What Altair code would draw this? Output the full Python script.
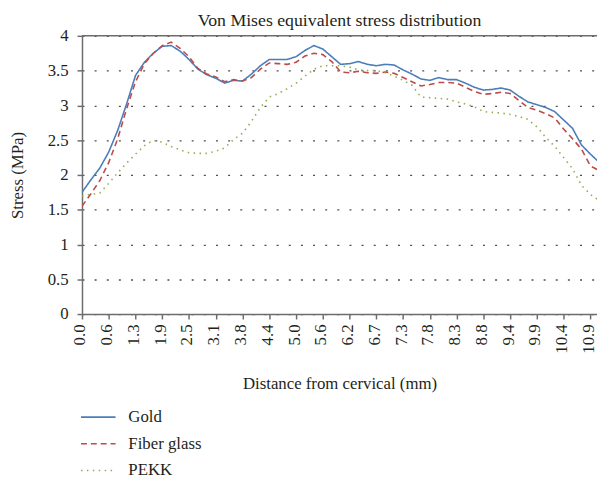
import json
import altair as alt
import pandas as pd

TITLE = "Von Mises equivalent stress distribution"
X_TITLE = "Distance from cervical (mm)"
Y_TITLE = "Stress (MPa)"

# category labels shown on the x axis (one every 3 data points)
TICK_LABELS = ["0.0", "0.6", "1.3", "1.9", "2.5", "3.1", "3.8", "4.4", "5.0", "5.6",
               "6.2", "6.7", "7.3", "7.8", "8.3", "8.8", "9.4", "9.9", "10.4", "10.9"]
POINTS_PER_LABEL = 3
Y_TICKS = [0, 0.5, 1, 1.5, 2, 2.5, 3, 3.5, 4]

SERIES = ["Gold", "Fiber glass", "PEKK"]

GOLD = [1.75, 1.93, 2.10, 2.33, 2.64, 3.02, 3.43, 3.62, 3.75, 3.85,
        3.86, 3.78, 3.66, 3.52, 3.44, 3.39, 3.32, 3.36, 3.35, 3.45,
        3.57, 3.66, 3.66, 3.66, 3.70, 3.79, 3.86, 3.81, 3.70, 3.59,
        3.60, 3.63, 3.59, 3.57, 3.59, 3.58, 3.51, 3.45, 3.38, 3.36,
        3.40, 3.37, 3.37, 3.32, 3.26, 3.22, 3.23, 3.25, 3.22, 3.13,
        3.05, 3.01, 2.97, 2.91, 2.79, 2.67, 2.43, 2.30, 2.18]

FIBER_GLASS = [1.55, 1.73, 1.92, 2.18, 2.52, 2.95, 3.34, 3.60, 3.75, 3.86,
               3.91, 3.82, 3.70, 3.53, 3.45, 3.41, 3.34, 3.37, 3.35, 3.40,
               3.52, 3.61, 3.60, 3.59, 3.62, 3.71, 3.75, 3.73, 3.63, 3.48,
               3.47, 3.49, 3.47, 3.46, 3.48, 3.46, 3.40, 3.34, 3.28, 3.30,
               3.33, 3.33, 3.32, 3.26, 3.20, 3.16, 3.17, 3.19, 3.17, 3.07,
               2.97, 2.93, 2.88, 2.82, 2.66, 2.52, 2.37, 2.13, 2.06]

PEKK = [1.70, 1.72, 1.74, 1.88, 2.03, 2.17, 2.30, 2.42, 2.50, 2.47,
        2.41, 2.36, 2.32, 2.31, 2.31, 2.34, 2.39, 2.51, 2.60, 2.77,
        2.97, 3.12, 3.17, 3.24, 3.32, 3.42, 3.52, 3.57, 3.57, 3.57,
        3.55, 3.51, 3.50, 3.50, 3.47, 3.42, 3.36, 3.29, 3.12, 3.11,
        3.10, 3.09, 3.05, 3.02, 2.98, 2.91, 2.90, 2.89, 2.87, 2.84,
        2.80, 2.69, 2.54, 2.41, 2.25, 2.09, 1.85, 1.72, 1.63]

COLORS = ["#4a7ebb", "#be4b48", "#8fae4e"]
DASHES = [[1, 0], [6, 4], [1.5, 4.5]]

FONT = "Liberation Serif"
TEXT_COLOR = "#231f20"
AXIS_COLOR = "#6d6d6d"

rows = []
for name, vals in zip(SERIES, [GOLD, FIBER_GLASS, PEKK]):
    for i, v in enumerate(vals):
        rows.append({"idx": i, "value": v, "series": name})
df = pd.DataFrame(rows)

label_expr = json.dumps(TICK_LABELS) + "[round(datum.value / %d)]" % POINTS_PER_LABEL
tick_vals = [i * POINTS_PER_LABEL for i in range(len(TICK_LABELS))]
x_max = (len(TICK_LABELS) - 1) * POINTS_PER_LABEL + 0.74

PLOT_W = 522
PLOT_H = 282

legend_common = dict(
    title=None, orient="none", legendX=-2, legendY=368, direction="vertical",
    symbolType="stroke", symbolSize=1225, symbolStrokeWidth=1.6,
    labelFont=FONT, labelFontSize=17, labelColor=TEXT_COLOR, labelOffset=12,
    rowPadding=-8,
)

y_axis = alt.Axis(values=Y_TICKS, format="~g",
                  grid=True, gridDash=[2, 10.3], gridColor="#4d4d4d", gridWidth=1.3,
                  labelPadding=9, title=Y_TITLE, titleX=-65, titleY=PLOT_H / 2,
                  titleAngle=270, titleAlign="center", titleBaseline="middle")

lines = alt.Chart(df).mark_line(clip=True, strokeWidth=1.6).encode(
    x=alt.X("idx:Q",
            scale=alt.Scale(domain=[0, x_max], nice=False, zero=False),
            axis=alt.Axis(values=tick_vals, labelExpr=label_expr, labelAngle=270,
                          labelAlign="right", labelBaseline="middle", labelPadding=5,
                          labelOffset=-2,
                          grid=False, title=X_TITLE, titleY=70, titleBaseline="middle")),
    y=alt.Y("value:Q", scale=alt.Scale(domain=[0, 4], nice=False), axis=y_axis),
    color=alt.Color("series:N", scale=alt.Scale(domain=SERIES, range=COLORS),
                    legend=alt.Legend(**legend_common)),
    strokeDash=alt.StrokeDash("series:N", scale=alt.Scale(domain=SERIES, range=DASHES),
                              legend=alt.Legend(**legend_common)),
)

top_frame = alt.Chart(pd.DataFrame({"value": [Y_TICKS[-1]]})).mark_rule(
    color=AXIS_COLOR, strokeWidth=1.5).encode(y=alt.Y("value:Q", axis=y_axis))

title_text = alt.Chart(pd.DataFrame({"t": [TITLE]})).mark_text(
    font=FONT, fontSize=18, color=TEXT_COLOR, align="center", baseline="alphabetic"
).encode(text="t:N", x=alt.value(PLOT_W / 2), y=alt.value(-10))

chart = alt.layer(lines, top_frame, title_text).properties(
    width=PLOT_W, height=PLOT_H,
    autosize=alt.AutoSizeParams(type="none"),
    padding={"left": 75, "top": 25, "right": 0, "bottom": 165},
).configure_view(stroke=None).configure_axis(
    labelFont=FONT, labelFontSize=17, labelColor=TEXT_COLOR,
    titleFont=FONT, titleFontSize=17, titleFontWeight="normal", titleColor=TEXT_COLOR,
    domainColor=AXIS_COLOR, domainWidth=1.5, tickColor=AXIS_COLOR, tickWidth=1.5,
    tickSize=5,
)

chart.save("out.html", embed_options={"renderer": "svg", "actions": False})
